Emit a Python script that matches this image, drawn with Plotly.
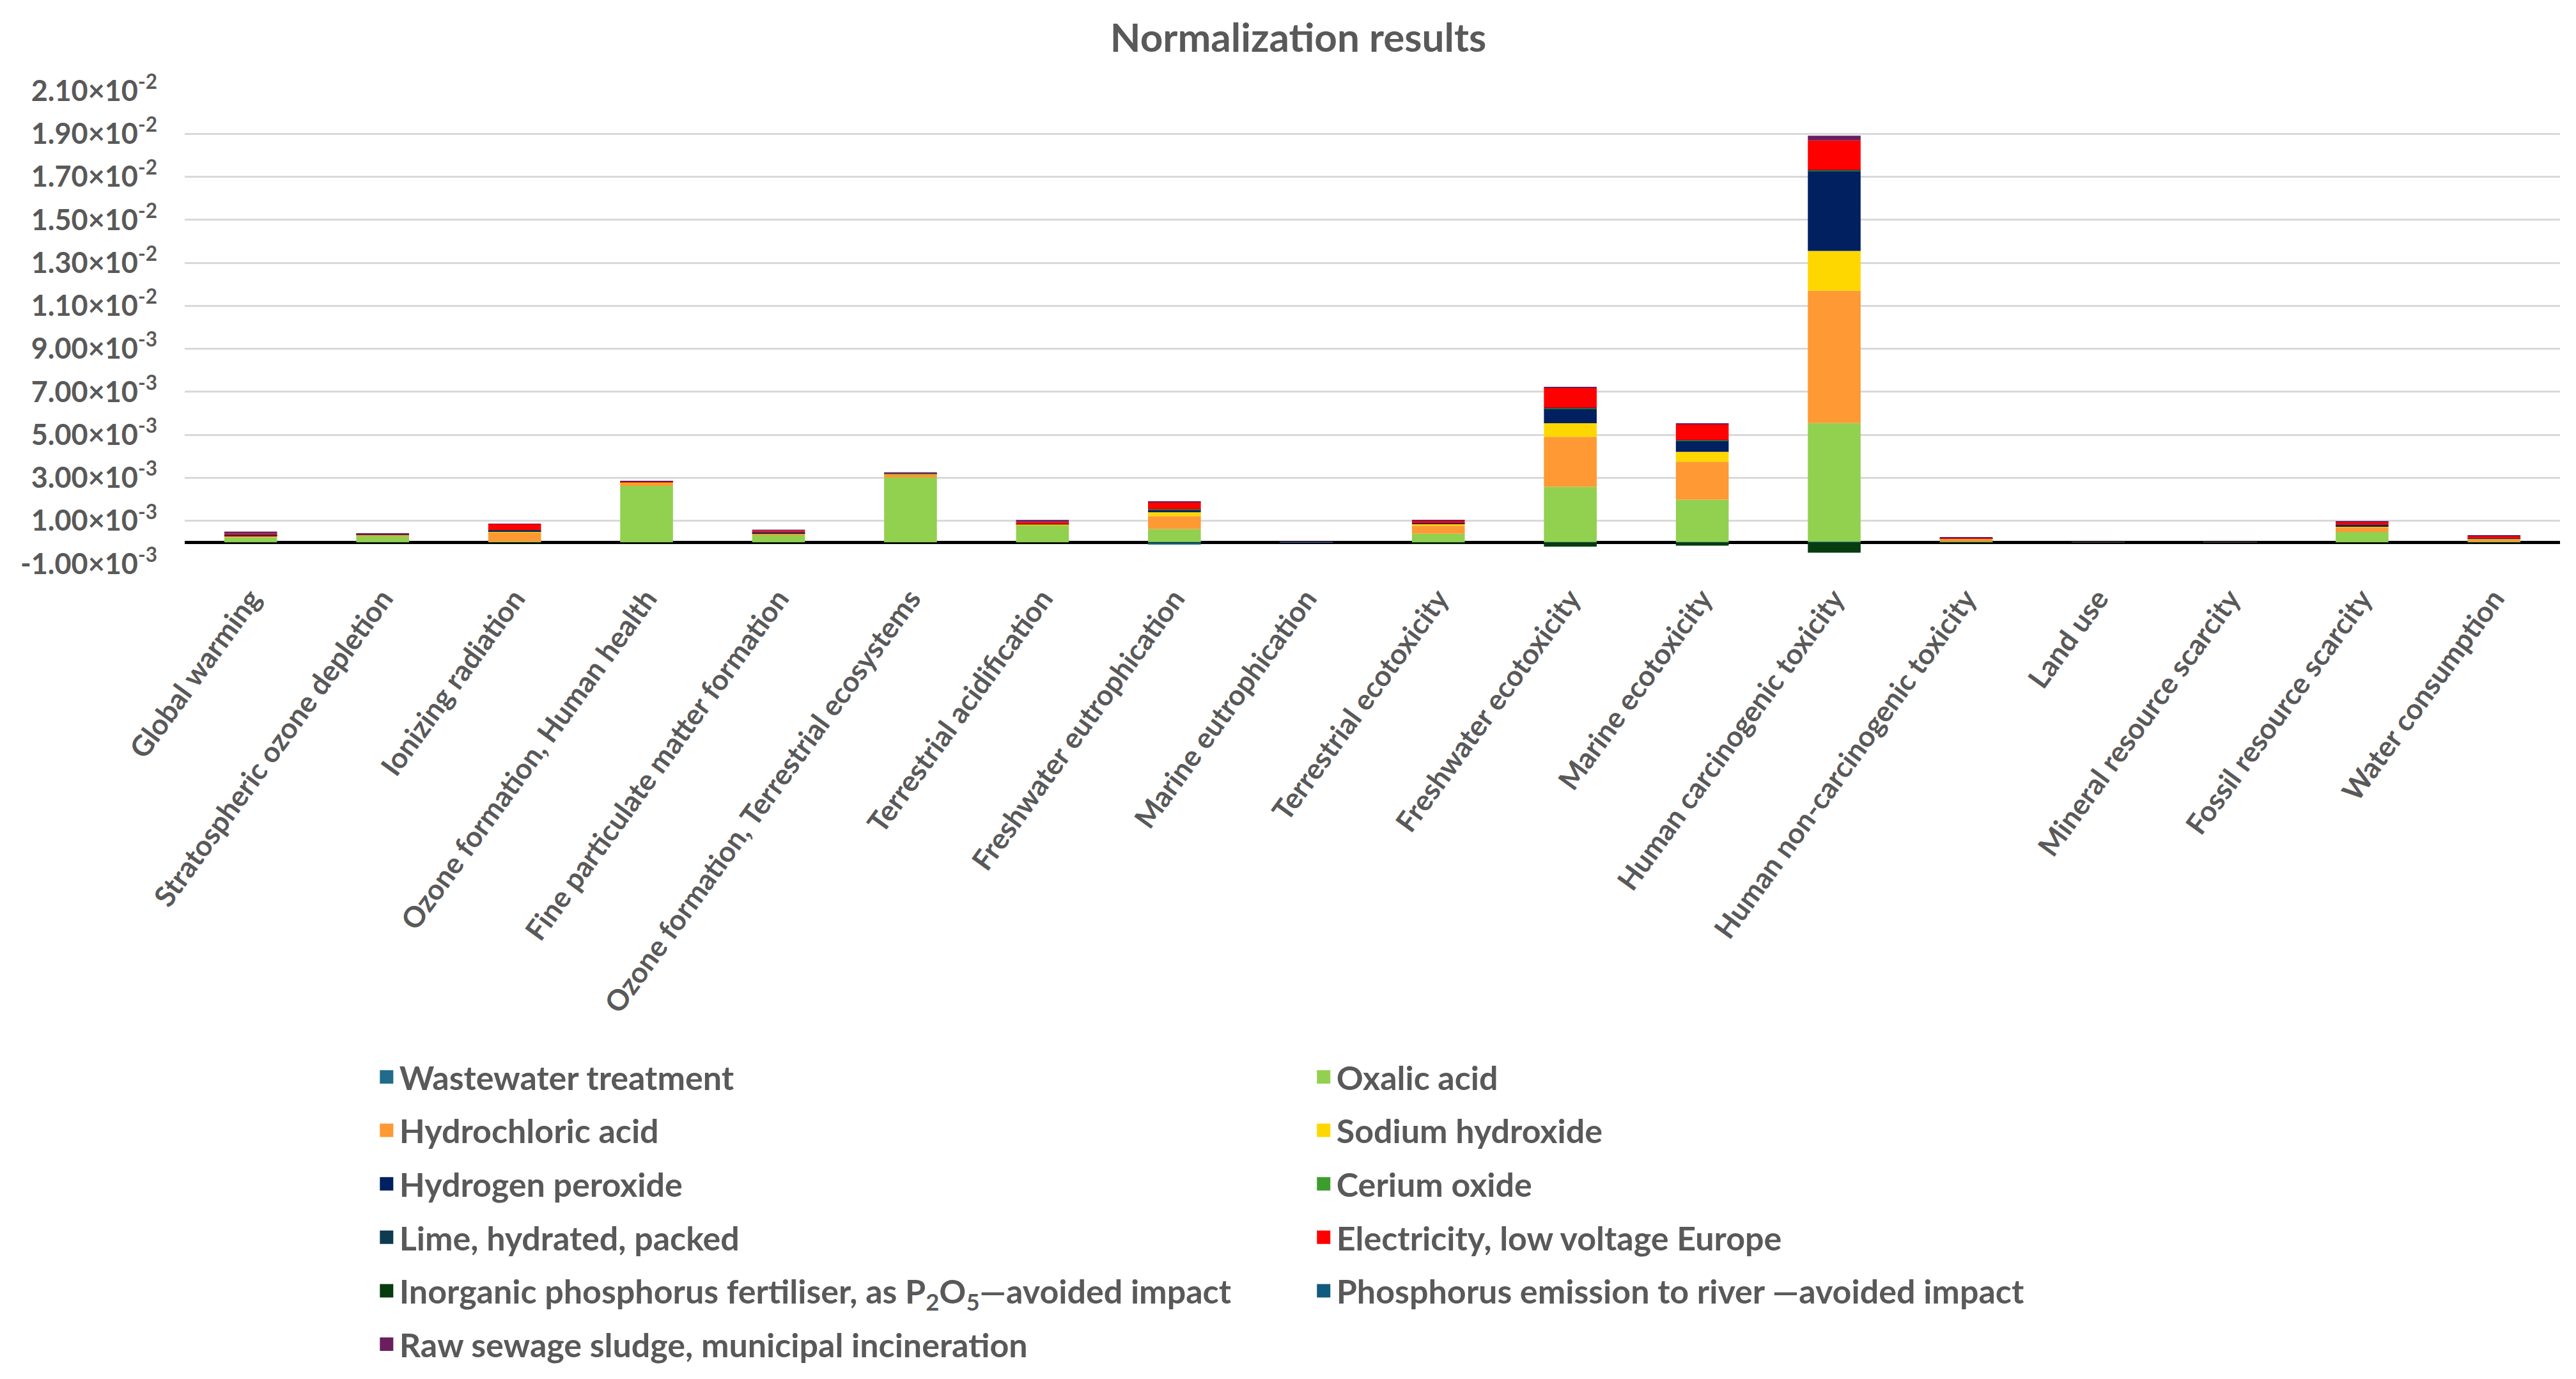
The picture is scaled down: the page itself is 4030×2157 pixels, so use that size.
import numpy as np
import plotly.graph_objects as go

# impact categories (x axis)
categories = [
    "Global warming", "Stratospheric ozone depletion", "Ionizing radiation",
    "Ozone formation, Human health", "Fine particulate matter formation",
    "Ozone formation, Terrestrial ecosystems", "Terrestrial acidification",
    "Freshwater eutrophication", "Marine eutrophication", "Terrestrial ecotoxicity",
    "Freshwater ecotoxicity", "Marine ecotoxicity", "Human carcinogenic toxicity",
    "Human non-carcinogenic toxicity", "Land use", "Mineral resource scarcity",
    "Fossil resource scarcity", "Water consumption",
]

# contributions, in units of 1e-3
wastewater = [0.01, 0.005, 0.01, 0.01, 0.005, 0.01, 0.01, 0.02, 0.01, 0.005, 0.02, 0.02, 0.03, 0.005, 0.002, 0.002, 0.005, 0.005]
oxalic = [0.22, 0.30, 0.02, 2.62, 0.36, 3.00, 0.76, 0.60, 0.01, 0.40, 2.56, 1.97, 5.52, 0.04, 0.004, 0.004, 0.48, 0.03]
hcl = [0.06, 0.05, 0.43, 0.14, 0.05, 0.16, 0.04, 0.60, 0.002, 0.37, 2.33, 1.76, 6.15, 0.12, 0.002, 0.002, 0.22, 0.13]
naoh = [0.01, 0.005, 0.03, 0.01, 0.01, 0.01, 0.01, 0.18, 0.001, 0.07, 0.63, 0.46, 1.85, 0.01, 0.001, 0.001, 0.02, 0.01]
h2o2 = [0.03, 0.005, 0.04, 0.01, 0.02, 0.01, 0.02, 0.12, 0.001, 0.03, 0.68, 0.51, 3.71, 0.005, 0.001, 0.001, 0.06, 0.01]
cerium = [0.005, 0.002, 0.005, 0.005, 0.005, 0.005, 0.005, 0.01, 0.001, 0.01, 0.02, 0.02, 0.03, 0.002, 0.001, 0.001, 0.005, 0.002]
lime = [0.01, 0.002, 0.04, 0.005, 0.01, 0.005, 0.01, 0.01, 0.001, 0.01, 0.02, 0.02, 0.03, 0.002, 0.001, 0.001, 0.02, 0.005]
electricity = [0.06, 0.02, 0.27, 0.02, 0.07, 0.02, 0.09, 0.33, 0.002, 0.10, 0.94, 0.74, 1.37, 0.02, 0.002, 0.002, 0.12, 0.11]
p_fertiliser = [-0.005, -0.002, -0.005, -0.01, -0.005, -0.01, -0.01, -0.02, -0.002, -0.03, -0.20, -0.15, -0.48, -0.005, -0.001, -0.001, -0.005, -0.005]
p_emission = [0, 0, 0, 0, 0, 0, 0, -0.08, -0.005, 0, 0, 0, 0, 0, 0, 0, 0, 0]
sewage = [0.10, 0.03, 0.02, 0.03, 0.06, 0.04, 0.10, 0.02, 0.002, 0.04, 0.02, 0.02, 0.22, 0.03, 0.001, 0.001, 0.06, 0.01]

# y ticks
tick_vals = [-1e-3, 1e-3, 3e-3, 5e-3, 7e-3, 9e-3, 1.1e-2, 1.3e-2, 1.5e-2, 1.7e-2, 1.9e-2, 2.1e-2]
tick_text = ["-1.00×10<sup>-3</sup>", "1.00×10<sup>-3</sup>", "3.00×10<sup>-3</sup>", "5.00×10<sup>-3</sup>",
             "7.00×10<sup>-3</sup>", "9.00×10<sup>-3</sup>", "1.10×10<sup>-2</sup>", "1.30×10<sup>-2</sup>",
             "1.50×10<sup>-2</sup>", "1.70×10<sup>-2</sup>", "1.90×10<sup>-2</sup>", "2.10×10<sup>-2</sup>"]

# (name, values, colour, legend column)
series = [
    ("Wastewater treatment", wastewater, "#216B8C", "legend"),
    ("Oxalic acid", oxalic, "#92D050", "legend2"),
    ("Hydrochloric acid", hcl, "#FF9933", "legend"),
    ("Sodium hydroxide", naoh, "#FFD700", "legend2"),
    ("Hydrogen peroxide", h2o2, "#002060", "legend"),
    ("Cerium oxide", cerium, "#3C9D2C", "legend2"),
    ("Lime, hydrated, packed", lime, "#0E3B4F", "legend"),
    ("Electricity, low voltage Europe", electricity, "#FF0000", "legend2"),
    ("Inorganic phosphorus fertiliser, as P<sub>2</sub>O<sub>5</sub>—avoided impact", p_fertiliser, "#073B10", "legend"),
    ("Phosphorus emission to river —avoided impact", p_emission, "#115B7F", "legend2"),
    ("Raw sewage sludge, municipal incineration", sewage, "#6B1E5E", "legend"),
]

FONT = "Lato"
GREY = "#595959"

fig = go.Figure()
for i, (name, vals, color, leg) in enumerate(series):
    fig.add_trace(go.Bar(
        x=categories, y=np.array(vals) * 1e-3, name=name,
        marker=dict(color=color, line=dict(width=0)),
        legendgroup="g%d" % i, showlegend=False,
    ))
    # legend-only entry so the key square can be bigger than the bar default
    fig.add_trace(go.Scatter(
        x=[None], y=[None], mode="markers", name=name,
        marker=dict(symbol="square", size=16, color=color, line=dict(width=5, color=color)),
        legend=leg, legendgroup="g%d" % i, hoverinfo="skip",
    ))

legend_font = dict(family=FONT, size=52, color=GREY, weight="bold")

fig.update_layout(
    width=4030, height=2157,
    barmode="relative", bargap=0.6,
    plot_bgcolor="white", paper_bgcolor="white",
    margin=dict(l=281, r=33, t=134, b=1283),
    font=dict(family=FONT, color=GREY),
    title=dict(text="Normalization results", x=0.502, xanchor="center",
               y=0.976, yanchor="middle",
               font=dict(family=FONT, size=62, color=GREY, weight="bold")),
    legend=dict(x=0.0796, xanchor="left", y=-1.03, yanchor="top",
                font=legend_font, tracegroupgap=13, bgcolor="rgba(0,0,0,0)"),
    legend2=dict(x=0.4741, xanchor="left", y=-1.03, yanchor="top",
                 font=legend_font, tracegroupgap=13, bgcolor="rgba(0,0,0,0)"),
)

fig.update_yaxes(
    range=[-1e-3, 2.1e-2], tickvals=tick_vals, ticktext=tick_text,
    showgrid=True, gridcolor="#D9D9D9", gridwidth=3,
    zeroline=True, zerolinecolor="black", zerolinewidth=5,
    showline=False, ticks="", ticklabelstandoff=42,
    tickfont=dict(family=FONT, size=45, color=GREY, weight="bold"),
)
fig.update_xaxes(
    tickangle=-54, showgrid=False, showline=False, ticks="", ticklabelstandoff=18,
    tickfont=dict(family=FONT, size=45, color=GREY, weight="bold"),
)

fig.write_html("out.html")
